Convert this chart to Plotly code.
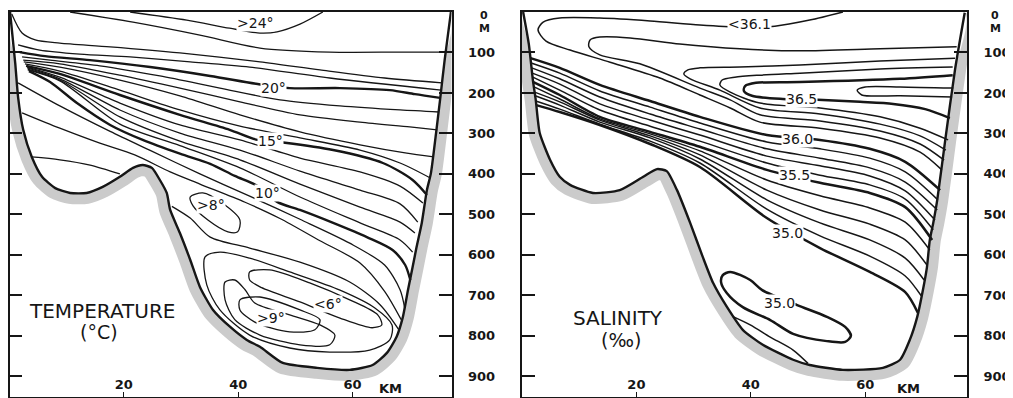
import plotly.graph_objects as go

# ---------------- TEMPERATURE SECTION (km, depth m) ----------------
T_BOTTOM = [(0.1,0),(1.0,126),(1.5,210),(2.4,291),(3.9,358),(5.7,407),(8.0,435),(10.6,447),(13.5,447),
            (16.3,432),(19.3,407),(21.6,385),(23.3,378),(24.9,385),(26.3,415),(27.5,447),(28.1,489),
            (29.8,546),(31.6,612),(33.3,679),(35.6,736),(38.6,778),(41.5,810),(43.8,827),(47.8,867),
            (53.8,879),(59.5,884),(63.5,872),(66.0,842),(67.7,802),(68.8,753),(69.7,686),(70.5,630),
            (71.2,580),(72.1,521),(73.0,440),(73.7,398),(74.6,299),(75.3,217),(76.1,119),(77.2,0)]

T24 = [(21.1,0),(31.0,20),(38.5,40),(43.8,52),(46.8,49),(50.8,30),(54.8,0)]
T23 = [(10.6,0),(21.6,25),(33.3,57),(43.8,89),(56.0,99),(68.3,99),(76.1,99)]
T22 = [(0.4,5),(2.2,52),(4.5,69),(8.8,77),(17.6,86),(29.8,101),(43.8,123),(54.3,143),(65.6,163),(75.6,175)]
T21 = [(1.5,81),(5.3,94),(12.3,104),(21.1,111),(31.6,123),(42.0,136),(56.0,163),(75.5,193)]
T20 = [(1.8,99),(6.2,109),(14.1,119),(24.6,136),(35.1,158),(43.4,178),(49.0,188),(57.8,188),(66.5,193),(70.9,203),(75.3,212)]
T19 = [(2.2,111),(7.1,119),(15.8,133),(26.3,158),(36.8,188),(47.3,217),(57.8,232),(68.3,242),(75.1,247)]
T18 = [(2.4,119),(8.8,128),(19.3,156),(29.8,188),(40.3,222),(50.8,254),(61.3,272),(70.0,284),(74.8,291)]
T17 = [(2.5,123),(8.8,136),(19.3,168),(29.8,207),(40.3,254),(50.8,296),(61.3,328),(69.2,348),(74.2,358)]
T16 = [(2.7,128),(8.8,146),(19.3,193),(29.8,242),(40.3,282),(50.8,311),(61.3,341),(68.3,373),(73.6,410)]
T15 = [(2.9,133),(8.8,153),(19.3,205),(29.8,254),(38.5,291),(43.4,316),(48.2,323),(56.6,341),(65.3,373),(70.5,415),(73.0,452)]
T14 = [(3.1,136),(8.8,161),(19.3,225),(29.8,279),(40.3,316),(50.8,361),(61.3,395),(68.3,430),(72.3,472)]
T13 = [(3.1,138),(8.8,165),(19.3,242),(29.8,299),(40.3,341),(50.8,393),(61.3,440),(68.3,474),(71.4,519)]
T12 = [(3.2,141),(8.8,168),(19.3,259),(29.8,319),(40.3,365),(50.8,425),(61.3,482),(68.3,519),(70.9,546)]
T11 = [(3.2,143),(8.8,170),(19.3,277),(29.8,330),(40.3,385),(50.8,457),(61.3,521),(68.3,563),(70.5,593)]
T10 = [(3.4,146),(7.1,173),(11.8,225),(17.6,279),(23.3,316),(29.8,350),(35.1,375),(39.4,405),(43.4,430),
       (46.8,469),(50.8,489),(56.6,521),(62.5,556),(67.0,588),(69.2,625),(70.1,662)]
T9 = [(1.5,175),(8.8,232),(17.6,295),(24.6,342),(33.3,400),(42.0,455),(50.8,512),(59.5,571),(65.6,625),(68.3,686),(69.1,730)]
T8 = [(2.2,249),(8.8,287),(15.8,324),(21.9,353),(28.1,395),(33.3,425),(41.2,470),(47.3,510),(54.3,565),(61.3,620),(65.6,690),(68.5,760)]
T7_SHELF = [(3.9,358),(8.8,365),(14.1,378),(19.3,400)]
T8_LENS = [(31.6,457),(33.8,447),(37.2,472),(40.3,514),(39.9,543),(38.2,543),(34.7,514),(32.1,479),(31.6,457)]
T7 = [(28.4,480),(31.6,509),(35.1,556),(42.0,583),(50.8,618),(59.5,667),(64.8,723),(68.1,785)]
T6_OUTER = [(34.2,605),(36.8,593),(42.0,608),(49.0,642),(57.8,687),(63.9,731),(66.9,773),(66.5,810),(63.0,835),
            (56.0,840),(49.0,830),(42.0,798),(36.8,736),(34.5,674),(34.2,605)]
T6_COLD = [(42.0,642),(45.5,637),(52.5,669),(59.5,711),(64.4,748),(65.1,773),(63.4,780),(57.8,756),(50.8,716),
           (44.1,681),(42.0,662),(42.0,642)]
T8_DEEP = [(37.7,667),(39.4,662),(41.2,686),(42.9,719),(49.0,748),(54.3,773),(56.9,798),(56.0,822),(50.8,822),
           (43.8,798),(39.4,760),(37.7,711),(37.7,667)]
T9_DEEP = [(40.3,711),(43.8,704),(50.8,736),(54.3,760),(53.4,785),(49.0,790),(42.9,766),(40.3,736),(40.3,711)]

TEMP_THIN = [T24, T23, T22, T21, T19, T18, T17, T16, T14, T13, T12, T11, T9, T8, T7_SHELF,
             T8_LENS, T7, T6_OUTER, T6_COLD, T8_DEEP, T9_DEEP]
TEMP_BOLD = [T20, T15, T10]
TEMP_LABELS = [(">24°", 43.1, 27), ("20°", 46.2, 188), ("15°", 45.7, 319), ("10°", 45.2, 447),
               (">8°", 35.2, 477), (">9°", 45.7, 756), ("<6°", 55.7, 721)]

# ---------------- SALINITY SECTION (km, depth m) ----------------
S_BOTTOM = [(0.2,0),(1.2,80),(1.9,168),(2.4,217),(3.1,299),(4.9,365),(6.6,407),(8.4,427),(12.4,447),(17.1,440),
            (21.2,407),(23.6,388),(25.3,393),(27.1,440),(29.4,521),(31.6,605),(33.4,669),(35.8,728),(38.6,785),
            (42.1,822),(47.4,859),(50.3,872),(56.1,884),(63.1,879),(66.1,859),(67.8,810),(69.1,753),(70.1,686),
            (70.8,630),(71.3,563),(71.9,521),(72.6,464),(74.0,316),(75.7,143),(77.4,2)]

S361 = [(56.1,0),(50.3,20),(44.2,35),(38.1,37),(31.1,32),(22.4,22),(13.6,15),(6.6,15),(3.7,25),(2.8,44),(4.2,72),
        (8.4,94),(15.4,124),(24.1,163),(31.1,205),(36.4,237),(41.6,272),(52.1,287),(62.6,311),(69.6,346),(73.4,390)]
S362 = [(76.0,86),(62.6,91),(48.6,96),(38.1,91),(27.6,79),(18.9,64),(13.6,62),(11.9,69),(11.7,86),(13.6,106),
        (20.6,128),(31.1,188),(36.4,217),(41.6,254),(52.1,269),(62.6,294),(69.6,326),(73.8,366)]
S363 = [(75.7,114),(62.6,121),(48.6,131),(38.1,136),(31.1,138),(29.0,143),(28.3,153),(29.4,165),(34.6,193),
        (41.6,237),(52.1,252),(62.6,277),(69.6,306),(74.1,341)]
S364 = [(75.3,136),(62.6,141),(48.6,151),(41.6,156),(37.2,161),(35.0,168),(34.6,180),(36.4,198),(41.6,225),
        (52.1,237),(62.6,259),(69.6,287),(74.5,316)]
S365 = [(75.3,156),(66.1,165),(48.6,173),(40.9,175),(39.0,183),(38.8,195),(40.2,207),(45.6,215),(51.7,217),
        (59.1,222),(64.9,227),(70.5,240),(74.8,262)]
S366 = [(75.4,188),(66.1,185),(60.0,185),(58.6,193),(59.4,205),(66.1,207),(75.2,210)]
S360 = [(1.5,114),(6.6,138),(13.6,180),(22.4,220),(31.1,259),(42.8,304),(52.1,316),(60.8,338),(67.0,370),(73.1,440)]
S359 = [(1.6,126),(6.6,151),(13.6,195),(22.4,235),(31.1,274),(42.8,321),(52.1,338),(60.8,361),(67.0,395),(72.7,464)]
S358 = [(1.7,138),(6.6,165),(13.6,210),(22.4,252),(31.1,289),(42.8,338),(52.1,361),(60.8,385),(67.0,420),(72.6,489)]
S357 = [(1.8,151),(6.6,178),(13.6,227),(22.4,267),(31.1,304),(42.8,356),(52.1,380),(60.8,405),(67.0,442),(72.2,514)]
S356 = [(1.9,161),(6.6,193),(13.6,242),(22.4,282),(31.1,319),(42.8,373),(52.1,403),(60.8,427),(67.0,462),(71.9,538)]
S355 = [(2.0,173),(6.6,205),(13.6,259),(22.4,296),(31.1,333),(42.8,390),(52.1,422),(60.8,447),(67.0,482),(71.7,563)]
S354 = [(2.1,185),(6.6,215),(13.6,264),(22.4,301),(31.1,343),(42.8,415),(52.1,454),(60.8,484),(67.0,519),(71.3,588)]
S353 = [(2.2,198),(6.6,222),(13.6,267),(22.4,306),(31.1,353),(42.8,440),(52.1,489),(60.8,524),(67.0,563),(70.8,625)]
S352 = [(2.3,207),(6.6,230),(13.6,272),(22.4,311),(31.1,363),(42.8,464),(52.1,521),(60.8,563),(67.0,608),(70.3,662)]
S351 = [(2.4,220),(6.6,240),(13.6,277),(22.4,319),(31.1,373),(42.8,487),(52.1,553),(60.8,603),(67.0,652),(69.8,701)]
S350 = [(2.5,230),(6.6,247),(13.6,279),(22.4,326),(31.1,383),(42.8,509),(52.1,583),(60.8,642),(67.0,692),(69.2,743)]
S350_DEEP = [(35.1,650),(36.4,642),(39.9,662),(42.0,687),(48.1,724),(53.3,753),(56.5,778),(57.5,800),(56.5,815),
             (53.3,813),(47.4,795),(43.4,761),(38.6,729),(35.8,694),(34.8,667),(35.1,650)]
S349 = [(36.8,752),(39.9,773),(43.4,803),(47.4,835),(50.0,868)]

SAL_THIN = [S361, S362, S363, S364, S366, S359, S358, S357, S356, S354, S353, S352, S351, S349]
SAL_BOLD = [S365, S360, S355, S350, S350_DEEP]
SAL_LABELS = [("<36.1", 39.7, 30), ("36.5", 48.8, 215), ("36.0", 48.1, 314), ("35.5", 47.6, 403),
              ("35.0", 46.5, 546), ("35.0", 45.1, 719)]

DEPTH_TICKS = [100, 200, 300, 400, 500, 600, 700, 800, 900]
KM_TICKS = [20, 40, 60]

# ---------------- figure ----------------
# the page body has an 8 px margin, so the figure is 1005 x 390 and screen px are shifted by 8
OFF = 8
W, H = 1013 - OFF, 398 - OFF
INK = "#161616"
FONT = "DejaVu Sans"


def PX(x):
    return (x - OFF) / W


def PY(y):
    return 1 - (y - OFF) / H


fig = go.Figure()


def xs(pts):
    return [p[0] for p in pts]


def ys(pts):
    return [p[1] for p in pts]


def add_panel(xa, ya, bottom, thin, bold, lw_thin, lw_bold):
    bx, by = xs(bottom), ys(bottom)
    fig.add_trace(go.Scatter(x=bx, y=by, mode="lines", xaxis=xa, yaxis=ya, hoverinfo="skip",
                             line=dict(color="#cbcbcb", width=22, shape="spline", smoothing=0.6)))
    fig.add_trace(go.Scatter(x=bx + [bx[0]], y=by + [by[0]], mode="lines", fill="toself",
                             fillcolor="white", xaxis=xa, yaxis=ya, hoverinfo="skip",
                             line=dict(color="white", width=0.1, shape="spline", smoothing=0.6)))
    for pts in thin:
        fig.add_trace(go.Scatter(x=xs(pts), y=ys(pts), mode="lines", xaxis=xa, yaxis=ya, hoverinfo="skip",
                                 line=dict(color=INK, width=lw_thin, shape="spline", smoothing=0.8)))
    for pts in bold:
        fig.add_trace(go.Scatter(x=xs(pts), y=ys(pts), mode="lines", xaxis=xa, yaxis=ya, hoverinfo="skip",
                                 line=dict(color=INK, width=lw_bold, shape="spline", smoothing=0.8)))
    fig.add_trace(go.Scatter(x=bx, y=by, mode="lines", xaxis=xa, yaxis=ya, hoverinfo="skip",
                             line=dict(color=INK, width=2.4, shape="spline", smoothing=0.6)))


add_panel("x", "y", T_BOTTOM, TEMP_THIN, TEMP_BOLD, 1.3, 2.4)
add_panel("x2", "y2", S_BOTTOM, SAL_THIN, SAL_BOLD, 1.5, 2.5)

ydom = [PY(397), PY(12)]
axis_common = dict(showgrid=False, zeroline=False, showline=True, linecolor=INK, linewidth=1.6, automargin=False)
yaxis_common = dict(axis_common, range=[951, 0], domain=ydom, side="right", ticks="inside", ticklen=13,
                    tickwidth=1.6, tickcolor=INK, mirror="ticks", tickvals=DEPTH_TICKS,
                    ticktext=[str(v) for v in DEPTH_TICKS], ticklabelstandoff=12,
                    tickfont=dict(family=FONT, size=13, color=INK, weight="bold"))
xaxis_common = dict(axis_common, ticks="inside", ticklen=5, tickwidth=1.4, tickcolor=INK, mirror=True,
                    tickvals=KM_TICKS, ticktext=[str(v) for v in KM_TICKS], ticklabelposition="inside",
                    tickfont=dict(family=FONT, size=13, color=INK, weight="bold"))

fig.update_layout(
    template="none",
    width=W, height=H, margin=dict(l=0, r=0, t=0, b=0, pad=0),
    paper_bgcolor="white", plot_bgcolor="white", showlegend=False,
    xaxis=dict(xaxis_common, domain=[PX(9.5), PX(451.5)], range=[0, 77.3], anchor="y"),
    yaxis=dict(yaxis_common, anchor="x"),
    xaxis2=dict(xaxis_common, domain=[PX(522), PX(967)], range=[0, 77.8], anchor="y2"),
    yaxis2=dict(yaxis_common, anchor="x2"),
)

ann = []
for text, x, y in TEMP_LABELS:
    ann.append(dict(x=x, y=y, xref="x", yref="y", text=text, showarrow=False, bgcolor="white", borderpad=0,
                    xanchor="center", yanchor="middle", font=dict(family=FONT, size=14, color=INK)))
for text, x, y in SAL_LABELS:
    ann.append(dict(x=x, y=y, xref="x2", yref="y2", text=text, showarrow=False, bgcolor="white", borderpad=0,
                    xanchor="center", yanchor="middle", font=dict(family=FONT, size=14, color=INK)))


def px_ann(text, xpx, ypx, size=14, weight="bold", yanchor="middle"):
    return dict(x=PX(xpx), y=PY(ypx), xref="paper", yref="paper", text=text, showarrow=False,
                xanchor="center", yanchor=yanchor, borderpad=0,
                font=dict(family=FONT, size=size, color=INK, weight=weight))


for cx in (484, 995):
    ann.append(px_ann("0", cx, 8, 11, yanchor="top"))
    ann.append(px_ann("M", cx, 21, 11, yanchor="top"))
ann.append(px_ann("KM", 390, 388, 13))
ann.append(px_ann("KM", 908, 388, 13))
ann.append(px_ann("TEMPERATURE", 102, 311, 20, "normal"))
ann.append(px_ann("(°C)", 99, 332, 19, "normal"))
ann.append(px_ann("SALINITY", 618, 318, 20, "normal"))
ann.append(px_ann("(‰)", 621, 340, 19, "normal"))
fig.update_layout(annotations=ann)

fig.write_html("out.html")
